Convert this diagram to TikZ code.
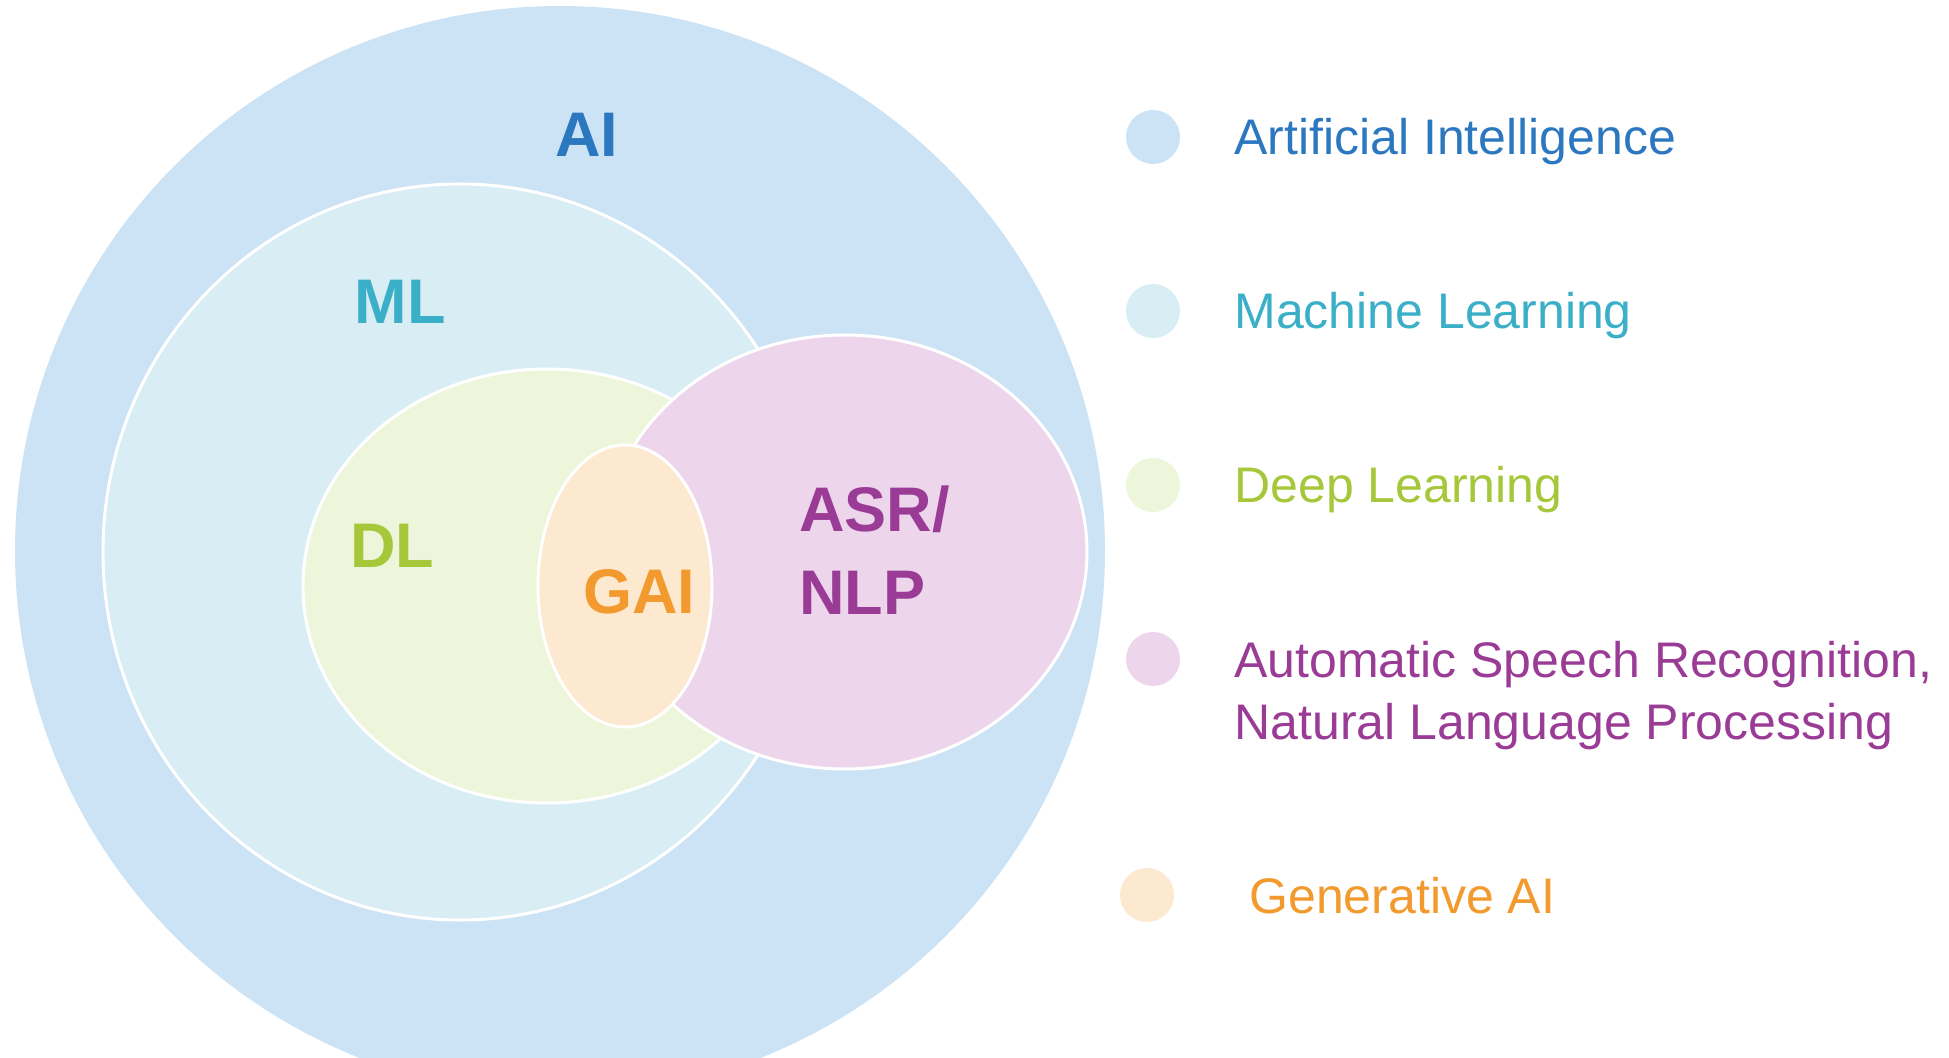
\documentclass[tikz,border=0pt]{standalone}
\usepackage{fontspec}
\setmainfont{Liberation Sans}

\definecolor{ai-fill}{HTML}{CCE3F5}
\definecolor{ml-fill}{HTML}{D8EDF4}
\definecolor{dl-fill}{HTML}{EDF5DA}
\definecolor{asr-fill}{HTML}{EDD5EC}
\definecolor{gai-fill}{HTML}{FDE8D0}
\definecolor{ai-text}{HTML}{2C78C0}
\definecolor{ml-text}{HTML}{3AAFC7}
\definecolor{dl-text}{HTML}{A6C73A}
\definecolor{asr-text}{HTML}{9A3C96}
\definecolor{gai-text}{HTML}{F29A2E}

\tikzset{
  region/.style={draw=white, line width=1.5pt},
  biglabel/.style={font=\fontsize{31.5}{41.5}\selectfont\bfseries, inner sep=0pt, align=left},
  keydot/.style={circle, inner sep=0pt, minimum size=27pt},
  keytext/.style={font=\fontsize{25}{31}\selectfont, inner sep=0pt, align=left, anchor=base west}
}

\begin{document}
\begin{tikzpicture}[x=0.5pt, y=-0.5pt]
  \useasboundingbox (0,0) rectangle (1949,1058);
  \clip (0,0) rectangle (1949,1058);

  % nested sets, back to front
  \fill[ai-fill] (560,551) circle[radius=545];
  \filldraw[region, fill=ml-fill] (460,552) ellipse[x radius=357, y radius=368];
  \filldraw[region, fill=dl-fill] (547,586) ellipse[x radius=244, y radius=217];
  \filldraw[region, fill=asr-fill] (845,552) ellipse[x radius=242, y radius=217];
  \filldraw[region, fill=gai-fill] (625,586) ellipse[x radius=87, y radius=141];

  \node[biglabel, text=ai-text] (lbl-ai) at (587,135) {AI};
  \node[biglabel, text=ml-text] (lbl-ml) at (400,302) {ML};
  \node[biglabel, text=dl-text] (lbl-dl) at (392,546) {DL};
  \node[biglabel, text=gai-text] (lbl-gai) at (639,592) {GAI};
  \node[biglabel, text=asr-text, anchor=west] (lbl-asr) at (799,550) {ASR/\\NLP};

  % legend (base of a two-line key is its last line)
  \foreach \name/\y/\dx/\tx/\ty/\txt in {ai/137/1153/1234/155/{Artificial Intelligence},
      ml/311/1153/1234/329/{Machine Learning}, dl/485/1153/1234/503/{Deep Learning},
      asr/659/1153/1234/739/{Automatic Speech Recognition,\\Natural Language Processing},
      gai/895/1147/1249/913/{Generative AI}}
  {
    \node[keydot, fill=\name-fill] (dot-\name) at (\dx,\y) {};
    \node[keytext, text=\name-text] (key-\name) at (\tx,\ty) {\txt};
  }
\end{tikzpicture}
\end{document}
